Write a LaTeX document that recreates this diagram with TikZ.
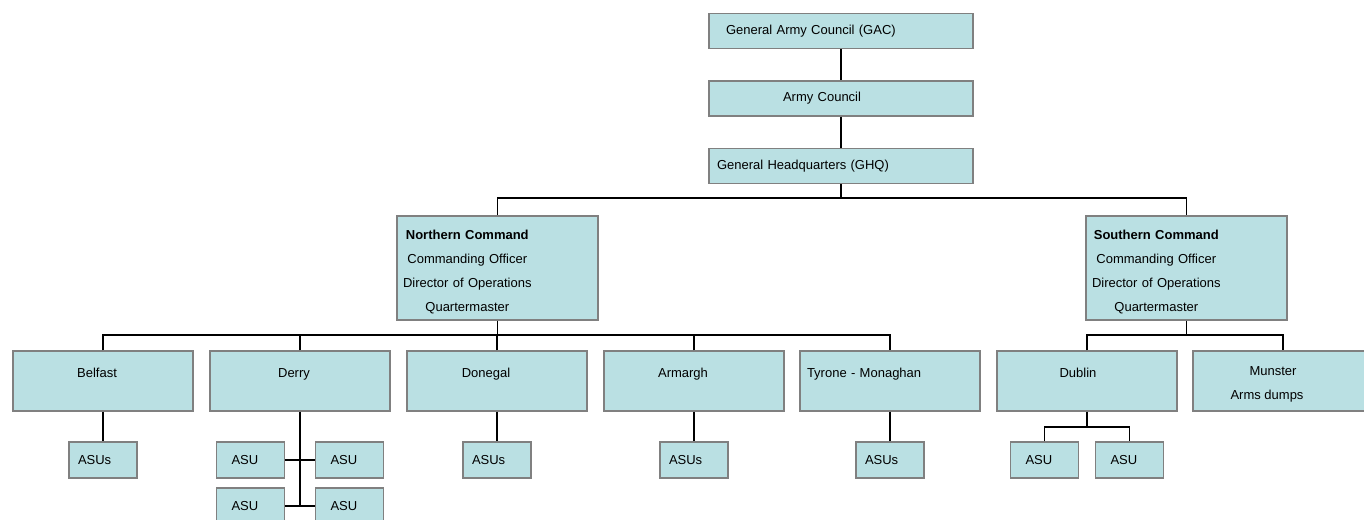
\documentclass[tikz,border=0pt]{standalone}
\usepackage{fontspec}
\setmainfont{Liberation Sans}
\usepackage{xcolor}
\usepackage{tikz}
\usetikzlibrary{positioning}
\definecolor{boxfill}{RGB}{186,224,227}
\definecolor{boxedge}{RGB}{128,128,128}
\newcommand{\chartfont}{\fontsize{13}{24}\selectfont}
\newcommand{\lift}{\rule{0pt}{16pt}}

\begin{document}
\begin{tikzpicture}[x=1pt, y=-1pt,
    box/.style={rectangle, draw=boxedge, fill=boxfill, line width=1.2pt, font=\chartfont, inner ysep=0pt},
    topbox/.style={box, minimum width=264, minimum height=35, align=left},
    cmdbox/.style={box, minimum width=201, minimum height=104, inner xsep=6, text width=189, align=left},
    areabox/.style={box, minimum width=180, minimum height=60, align=center},
    asusbox/.style={box, minimum width=68, minimum height=36, inner xsep=9, text width=50, align=left},
    asubox/.style={box, minimum width=68, minimum height=36, inner xsep=15, text width=38, align=left},
    link/.style={line width=1.3pt, black}
]
    \useasboundingbox (0,0) rectangle (1364,519);
    \clip (0,0) rectangle (1364,519);

    % Leadership
    \node[topbox, inner xsep=17, text width=230] (gac) at (841,31) {General Army Council (GAC)};
    \node[topbox, inner xsep=74, text width=116] (army) at (841,98.5) {Army Council};
    \node[topbox, inner xsep=8, text width=248] (ghq) at (841,166) {General Headquarters (GHQ)};

    % Commands
    \node[cmdbox] (north) at (497.5,268) {\begin{tabular}{@{}c@{}}\rule{0pt}{22pt}\textbf{Northern Command}\\ Commanding Officer\\ Director of Operations\\ Quartermaster\end{tabular}};
    \node[cmdbox] (south) at (1186.5,268) {\begin{tabular}{@{}c@{}}\rule{0pt}{22pt}\textbf{Southern Command}\\ Commanding Officer\\ Director of Operations\\ Quartermaster\end{tabular}};

    % Brigades
    \node[areabox] (belfast) at (103,381) {\lift Belfast\hspace*{12pt}\\\mbox{}};
    \node[areabox] (derry) at (300,381) {\lift Derry\hspace*{12pt}\\\mbox{}};
    \node[areabox] (donegal) at (497,381) {\lift Donegal\hspace*{22pt}\\\mbox{}};
    \node[areabox] (armargh) at (694,381) {\lift Armargh\hspace*{22pt}\\\mbox{}};
    \node[areabox, inner xsep=7, text width=166, align=left] (tyrone) at (890,381) {\lift Tyrone - Monaghan\\\mbox{}};
    \node[areabox] (dublin) at (1087,381) {\lift Dublin\hspace*{18pt}\\\mbox{}};
    \node[areabox] (munster) at (1283,381) {\lift Munster\hspace*{20pt}\\Arms dumps\hspace*{32pt}};

    % Active service units
    \node[asusbox] (belfast-asu) at (103,460) {ASUs};
    \node[asusbox] (donegal-asu) at (497,460) {ASUs};
    \node[asusbox] (armargh-asu) at (694,460) {ASUs};
    \node[asusbox] (tyrone-asu) at (890,460) {ASUs};
    \node[asubox] (derryA) at (250.5,460) {ASU};
    \node[asubox] (derryB) at (349.5,460) {ASU};
    \node[asubox] (derryC) at (250.5,506) {ASU};
    \node[asubox] (derryD) at (349.5,506) {ASU};
    \node[asubox] (dublinA) at (1044.5,460) {ASU};
    \node[asubox] (dublinB) at (1129.5,460) {ASU};

    % Bus points
    \coordinate (topbus) at (841,198);
    \coordinate (nbus) at (497.5,335);
    \coordinate (sbus) at (1186.5,335);
    \coordinate (dbus) at (1087,427);

    % Links
    \draw[link] (gac) -- (army);
    \draw[link] (army) -- (ghq);
    \draw[link] (ghq) -- (topbus);
    \draw[link] (north.north) |- (topbus) -| (south.north);
    \draw[link] (north) -- (nbus);
    \draw[link] (belfast.north) |- (nbus) -| (tyrone.north);
    \foreach \d in {derry, donegal, armargh}
        \draw[link] (\d.north) -- (\d.north |- nbus);
    \draw[link] (south) -- (sbus);
    \draw[link] (dublin.north) |- (sbus) -| (munster.north);
    \foreach \d in {belfast, donegal, armargh, tyrone}
        \draw[link] (\d) -- (\d-asu);
    \draw[link] (derry) -- (derry |- derryC.east);
    \draw[link] (derryA) -- (derryB);
    \draw[link] (derryC) -- (derryD);
    \draw[link] (dublin) -- (dbus);
    \draw[link] (dublinA.north) |- (dbus) -| (dublinB.north);

\end{tikzpicture}
\end{document}
